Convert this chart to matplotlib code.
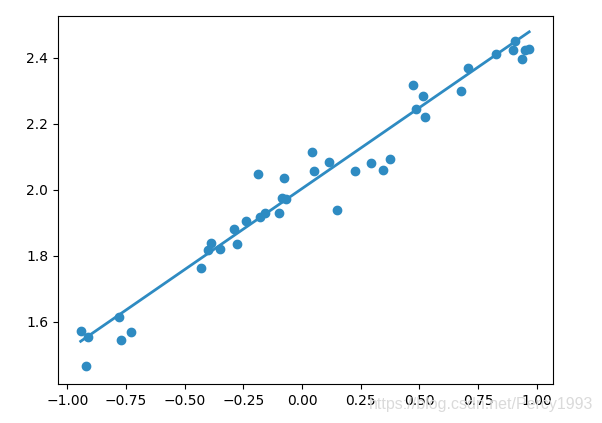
import matplotlib
matplotlib.use("Agg")
import matplotlib.pyplot as plt

# scatter data
x_data = [-0.942, -0.911, -0.920, -0.778, -0.770, -0.730, -0.430, -0.399, -0.388,
          -0.349, -0.288, -0.277, -0.237, -0.179, -0.158, -0.097, -0.186, -0.075,
          -0.087, -0.068, 0.044, 0.052, 0.116, 0.148, 0.227, 0.294, 0.347, 0.375,
          0.474, 0.517, 0.486, 0.525, 0.679, 0.709, 0.827, 0.900, 0.909, 0.939,
          0.950, 0.968]
y_data = [1.571, 1.552, 1.465, 1.613, 1.543, 1.567, 1.761, 1.817, 1.837,
          1.819, 1.879, 1.834, 1.905, 1.916, 1.928, 1.928, 2.046, 2.034,
          1.973, 1.970, 2.113, 2.056, 2.083, 1.938, 2.056, 2.080, 2.059, 2.092,
          2.317, 2.283, 2.243, 2.219, 2.298, 2.367, 2.411, 2.423, 2.450, 2.395,
          2.423, 2.426]

# fitted line ends
line_x = [-0.943, 0.968]
line_y = [1.540, 2.478]

color = "#2e8bc2"

fig = plt.figure(figsize=(6.02, 4.23), dpi=100)
ax = fig.add_axes([58 / 602, 1 - 384 / 423, 495 / 602, 368 / 423])
ax.scatter(x_data, y_data, color=color, s=36)
ax.plot(line_x, line_y, color=color, linewidth=2)

ax.set_xlim(-1.0396, 1.0694)
ax.set_ylim(1.4106, 2.526)
ax.set_xticks([-1.0, -0.75, -0.5, -0.25, 0.0, 0.25, 0.5, 0.75, 1.0])
ax.set_yticks([1.6, 1.8, 2.0, 2.2, 2.4])

# csdn watermark
fig.text(593 / 602, 1 - 404 / 423, "https://blog.csdn.net/Percy1993",
         ha="right", va="center", fontsize=11.5, color="#dadada",
         family="Liberation Sans", zorder=0)

fig.savefig("out.png", dpi=100)
